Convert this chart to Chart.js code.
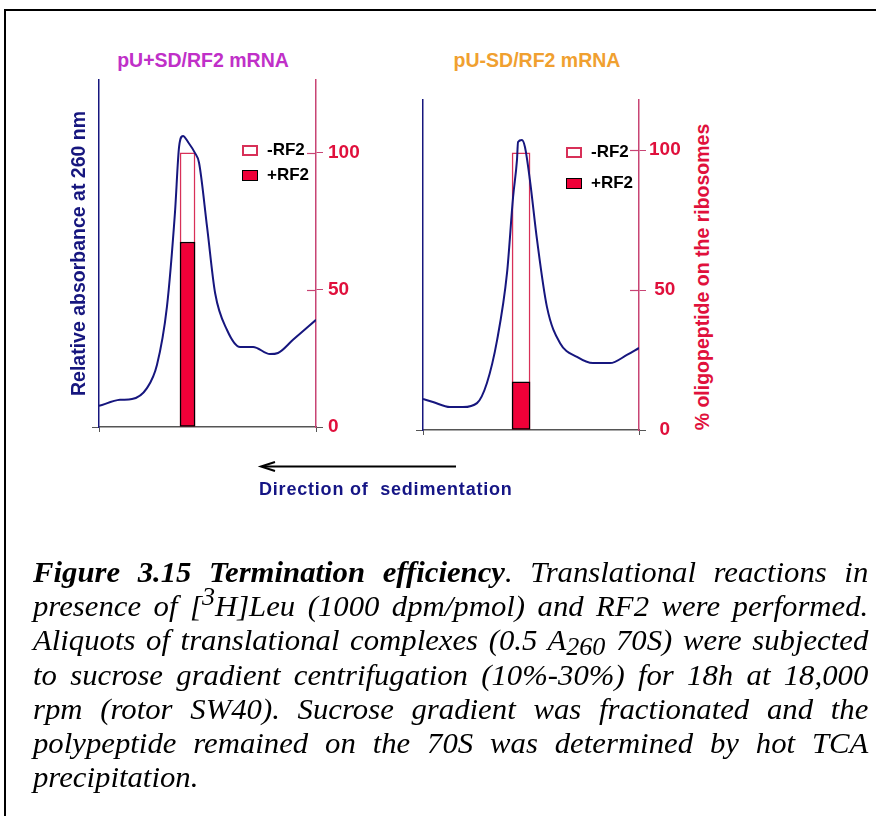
<!DOCTYPE html>
<html>
<head>
<meta charset="utf-8">
<script src="https://cdn.jsdelivr.net/npm/chart.js@4.4.1/dist/chart.umd.min.js"></script>
<style>
    body { margin: 0; background: #fff; width: 876px; height: 816px; position: relative; overflow: hidden; font-family: 'Liberation Sans', Arial, sans-serif; }
    .frame { position: absolute; left: 4px; top: 9px; width: 900px; height: 900px; border-top: 2px solid #000; border-left: 2px solid #000; }
    canvas { position: absolute; }
    .ptitle { position: absolute; font-weight: bold; font-size: 19.5px; line-height: 20px; white-space: nowrap; transform: translateX(-50%); }
    .rtitle { position: absolute; font-weight: bold; font-size: 19.5px; white-space: nowrap; color: #e0103c; transform: translate(-50%, -50%) rotate(-90deg); }
    .leg { position: absolute; font-weight: bold; font-size: 17px; line-height: 18px; white-space: nowrap; }
    .leg span.box { position: absolute; left: 0; width: 16px; height: 11px; box-sizing: border-box; }
    .leg span.txt { position: absolute; left: 25px; top: -4px; }
    .dir { position: absolute; left: 259px; top: 479px; font-weight: bold; font-size: 18px; line-height: 20px; letter-spacing: 0.8px; white-space: pre; color: #151585; }
    .caption { position: absolute; left: 33px; top: 555px; width: 788px; transform: scaleX(1.06); transform-origin: 0 0; font-family: 'Liberation Serif', 'Times New Roman', serif; font-style: italic; font-size: 29px; }
    .caption div { height: 34.2px; line-height: 34.2px; text-align: justify; text-align-last: justify; white-space: nowrap; }
    .caption div.last { text-align-last: left; }
    .caption sup, .caption sub { font-size: 0.85em; line-height: 0; position: relative; vertical-align: baseline; }
    .caption sup { top: -0.45em; }
    .caption sub { top: 0.2em; }
</style>
</head>
<body>
<div class="frame"></div>

<div class="ptitle" style="left:203px; top:50px; color:#c030c8;">pU+SD/RF2 mRNA</div>
<div class="ptitle" style="left:537px; top:50px; color:#f0a030;">pU-SD/RF2 mRNA</div>

<canvas id="leftChart" width="306" height="387" style="left:64px; top:60px;"></canvas>
<canvas id="rightChart" width="290" height="370" style="left:400px; top:80px;"></canvas>

<div class="rtitle" style="left:702px; top:277px;">% oligopeptide on the ribosomes</div>

<div id="legLeft"></div>
<div id="legRight"></div>

<svg style="position:absolute; left:0; top:0;" width="876" height="816">
    <line x1="456" y1="466.5" x2="262" y2="466.5" stroke="#000" stroke-width="2"/>
    <polyline points="275,462 261,466.5 275,471" fill="none" stroke="#000" stroke-width="2"/>
</svg>
<div class="dir">Direction of  sedimentation</div>

<div class="caption">
    <div><b>Figure 3.15 Termination efficiency</b>. Translational reactions in</div>
    <div>presence of [<sup>3</sup>H]Leu (1000 dpm/pmol) and RF2 were performed.</div>
    <div>Aliquots of translational complexes (0.5 A<sub>260</sub> 70S) were subjected</div>
    <div>to sucrose gradient centrifugation (10%-30%) for 18h at 18,000</div>
    <div>rpm (rotor SW40). Sucrose gradient was fractionated and the</div>
    <div>polypeptide remained on the 70S was determined by hot TCA</div>
    <div class="last">precipitation.</div>
</div>

<script>
// fraction position (0 = top of gradient side, 100 = right end) and A260 trace, pU+SD/RF2
const posLeft = [0, 9.7, 15.2, 22.1, 26.7, 31.3, 35.0, 36.9, 38.7, 41.0, 44.2, 46.1, 49.8, 53.5, 59.0, 65.0, 71.0, 78.8, 82.5, 89.4, 100];
const absLeft = [7.7, 9.9, 10.2, 14.2, 22.6, 43.8, 78.1, 102.2, 106.2, 104.0, 100, 96.4, 73.0, 48.9, 35.4, 29.2, 29.2, 26.6, 27.0, 31.8, 39.1];

// pU-SD/RF2
const posRight = [0, 4.6, 12.5, 18.5, 25.0, 29.6, 34.3, 38.9, 41.7, 43.5, 44.0, 45.8, 47.2, 49.5, 52.8, 57.4, 63.4, 71.3, 78.7, 86.6, 94.4, 100];
const absRight = [11.1, 10.0, 8.2, 8.2, 9.6, 16.8, 32.1, 56.1, 83.2, 96.4, 102.9, 103.6, 101.1, 89.3, 67.9, 43.9, 31.1, 26.1, 23.9, 23.9, 26.8, 29.3];

// % oligopeptide on the ribosomes (peak fraction)
const seriesNames = ['-RF2', '+RF2'];
const peakPos = [40.8, 45.4];
const minusRF2 = [100, 99];
const plusRF2 = [67.5, 17.2];

const tickVals = [0, 50, 100];
const axisMax = [126.6, 117.9];

const navy = '#16167e';
const tickRed = '#e0103c';
const axisRed = '#c84474';
const barRed = '#f00038';
const barEdge = '#d83058';

const innerTicks = {
    id: 'innerTicks',
    afterDraw(chart) {
        const s = chart.scales.y1;
        const ctx = chart.ctx;
        ctx.save();
        ctx.strokeStyle = axisRed;
        ctx.lineWidth = 1.2;
        s.ticks.forEach(t => {
            if (t.value === 0) return;
            const y = Math.round(s.getPixelForValue(t.value)) + 0.5;
            ctx.beginPath();
            ctx.moveTo(s.left - 9, y);
            ctx.lineTo(s.left, y);
            ctx.stroke();
        });
        ctx.restore();
    }
};

function makePanel(id, i, pos, abs, opts) {
    const datasets = [
        {
            type: 'line', label: 'A260',
            data: pos.map((x, k) => ({ x: x, y: abs[k] })),
            yAxisID: 'y', borderColor: navy, borderWidth: 2,
            pointRadius: 0, cubicInterpolationMode: 'monotone', order: 0
        },
        {
            type: 'bar', label: seriesNames[1],
            data: [{ x: peakPos[i], y: plusRF2[i] }],
            yAxisID: 'y1', backgroundColor: barRed, borderColor: '#000', borderWidth: 1.5,
            borderSkipped: false, barThickness: opts.barW, maxBarThickness: opts.barW, grouped: false, order: 1
        },
        {
            type: 'bar', label: seriesNames[0],
            data: [{ x: peakPos[i], y: minusRF2[i] }],
            yAxisID: 'y1', backgroundColor: '#fff', borderColor: barEdge, borderWidth: 1.5,
            borderSkipped: false, barThickness: opts.barW, maxBarThickness: opts.barW, grouped: false, order: 2
        }
    ];

    new Chart(document.getElementById(id), {
        type: 'bar',
        data: { datasets: datasets },
        options: {
            responsive: false,
            animation: false,
            layout: { padding: { top: 20, left: 0, right: 0, bottom: 0 } },
            plugins: { legend: { display: false }, tooltip: { enabled: false } },
            scales: {
                x: {
                    type: 'linear', min: 0, max: 100, offset: false,
                    afterBuildTicks: s => { s.ticks = [{ value: 0 }, { value: 100 }]; },
                    afterFit: s => { s.height = 20; },
                    ticks: { display: false },
                    grid: { drawOnChartArea: false, tickLength: 5, color: '#555', offset: false },
                    border: { color: '#555', width: 1.5 }
                },
                y: {
                    type: 'linear', position: 'left', min: 0, max: axisMax[i],
                    afterBuildTicks: s => { s.ticks = [{ value: 0 }]; },
                    afterFit: s => { s.width = opts.leftW; },
                    ticks: { display: false },
                    grid: { drawOnChartArea: false, tickLength: 7, color: '#555' },
                    border: { color: navy, width: 1.5 },
                    title: {
                        display: !!opts.yTitle, text: opts.yTitle || '', color: navy,
                        font: { size: 19.5, weight: 'bold' }
                    }
                },
                y1: {
                    type: 'linear', position: 'right', min: 0, max: axisMax[i],
                    afterBuildTicks: s => { s.ticks = tickVals.map(v => ({ value: v })); },
                    afterFit: s => { s.width = opts.rightW; },
                    ticks: {
                        color: tickRed, font: { size: 19, weight: 'bold' },
                        padding: opts.tickPad, crossAlign: opts.crossAlign
                    },
                    grid: {
                        drawOnChartArea: false, tickLength: 7,
                        color: c => (c.tick && c.tick.value === 0) ? '#555' : axisRed
                    },
                    border: { color: axisRed, width: 1.5 }
                }
            }
        },
        plugins: [innerTicks]
    });

    // legend as real text, built from the dataset labels and colours
    const leg = document.getElementById(opts.legId);
    [datasets[2], datasets[1]].forEach((d, k) => {
        const row = document.createElement('div');
        row.className = 'leg';
        row.style.left = opts.legX + 'px';
        row.style.top = (opts.legY + k * opts.legGap) + 'px';
        const box = document.createElement('span');
        box.className = 'box';
        box.style.background = d.backgroundColor;
        box.style.border = (k === 0 ? '2px solid ' : '1.5px solid ') + d.borderColor;
        const txt = document.createElement('span');
        txt.className = 'txt';
        txt.textContent = d.label;
        row.appendChild(box);
        row.appendChild(txt);
        leg.appendChild(row);
    });
}

Chart.defaults.font.family = "'Liberation Sans', Arial, sans-serif";

makePanel('leftChart', 0, posLeft, absLeft, {
    leftW: 35, rightW: 54, barW: 15, tickPad: 5, crossAlign: 'near',
    yTitle: 'Relative absorbance at 260 nm',
    legId: 'legLeft', legX: 242, legY: 145, legGap: 25
});
makePanel('rightChart', 1, posRight, absRight, {
    leftW: 23, rightW: 51, barW: 18, tickPad: 3, crossAlign: 'center',
    yTitle: '',
    legId: 'legRight', legX: 566, legY: 147, legGap: 31
});
</script>
</body>
</html>
